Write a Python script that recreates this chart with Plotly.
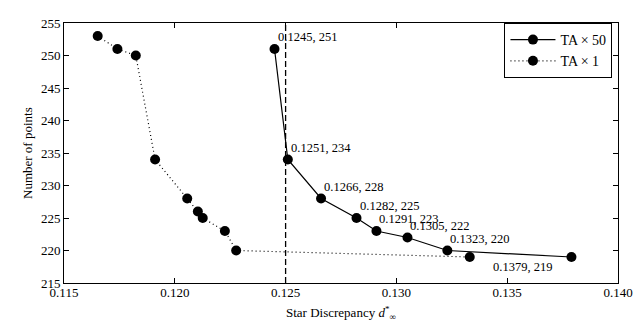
import plotly.graph_objects as go

# TA x 50 runs (solid line, labelled points)
ta50_disc = [0.1245, 0.1251, 0.1266, 0.1282, 0.1291, 0.1305, 0.1323, 0.1379]
ta50_pts = [251, 234, 228, 225, 223, 222, 220, 219]

# TA x 1 runs (dotted line)
ta1_disc = [0.11652, 0.11741, 0.11824, 0.11911, 0.12056, 0.12104, 0.12126,
            0.12226, 0.12277, 0.13331]
ta1_pts = [253, 251, 250, 234, 228, 226, 225, 223, 220, 219]

threshold = 0.125
x_ticks = [0.115, 0.120, 0.125, 0.130, 0.135, 0.140]
y_ticks = [215, 220, 225, 230, 235, 240, 245, 250, 255]

FONT = "Liberation Serif"

fig = go.Figure()

fig.add_trace(go.Scatter(
    x=ta50_disc, y=ta50_pts,
    mode='lines+markers',
    name='TA \u00d7 50',
    line=dict(color='black', width=1.2),
    marker=dict(color='black', size=10)
))

fig.add_trace(go.Scatter(
    x=ta1_disc, y=ta1_pts,
    mode='lines+markers',
    name='TA \u00d7 1',
    line=dict(color='black', width=1.2, dash='1px,3px'),
    marker=dict(color='black', size=10)
))

# dashed reference line
fig.add_shape(type='line', x0=threshold, x1=threshold, y0=0, y1=1,
              xref='x', yref='paper',
              line=dict(color='black', width=1.3, dash='6px,3px'))

# point labels
for i, (x, y) in enumerate(zip(ta50_disc, ta50_pts)):
    last = i == len(ta50_disc) - 1
    fig.add_annotation(
        x=x, y=y, text=f"{x:.4f}, {y}",
        showarrow=False,
        xanchor='right' if last else 'left',
        yanchor='top' if last else 'bottom',
        xshift=-17 if last else 1,
        yshift=-1 if last else 3,
        font=dict(family=FONT, size=12.5, color='black')
    )

# axis titles as annotations so they sit where the reference has them
fig.add_annotation(
    x=0.5, y=0, xref='paper', yref='paper',
    text='Star Discrepancy <i>d</i><sup>*</sup><sub>\u221e</sub>',
    showarrow=False, xanchor='center', yanchor='top', yshift=-19,
    font=dict(family=FONT, size=13, color='black')
)
fig.add_annotation(
    x=0, y=0.5, xref='paper', yref='paper',
    text='Number of points', textangle=-90,
    showarrow=False, xanchor='center', yanchor='middle', xshift=-37,
    font=dict(family=FONT, size=13, color='black')
)

axis_common = dict(
    showgrid=False, zeroline=False,
    showline=True, linecolor='black', linewidth=1,
    mirror='ticks', ticks='inside', ticklen=5, tickcolor='black',
    tickfont=dict(family=FONT, size=13, color='black'),
    ticklabeloverflow='allow',
)

fig.update_xaxes(range=[0.115, 0.140], tickvals=x_ticks, tickformat='.3f',
                 ticklabelstandoff=-3, **axis_common)
fig.update_yaxes(range=[215, 255], tickvals=y_ticks, **axis_common)

# page body has an 8px default margin, so the figure is sized to fit inside it
fig.update_layout(
    width=633, height=314,
    margin=dict(l=56, r=13, t=8, b=39),
    plot_bgcolor='white', paper_bgcolor='white',
    showlegend=True,
    legend=dict(x=0.99, y=1.0, xanchor='right', yanchor='top',
                bordercolor='black', borderwidth=1, bgcolor='white',
                font=dict(family=FONT, size=14, color='black'),
                itemwidth=45, tracegroupgap=0)
)

fig.write_html("out.html")
